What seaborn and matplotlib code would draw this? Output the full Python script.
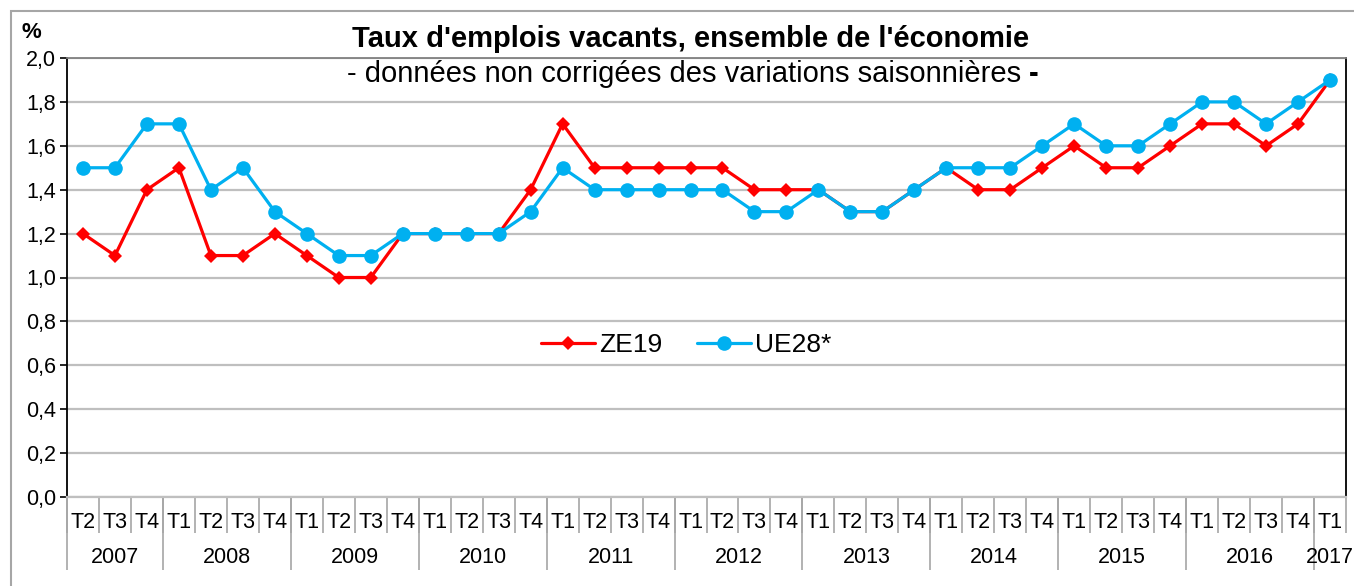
import pandas as pd
import seaborn as sns
import matplotlib.pyplot as plt
from matplotlib.patches import Rectangle
from matplotlib.lines import Line2D

# Trimestres de 2007 T2 à 2017 T1
years = ['2007', '2008', '2009', '2010', '2011', '2012', '2013', '2014', '2015', '2016', '2017']
quarters_per_year = [3, 4, 4, 4, 4, 4, 4, 4, 4, 4, 1]
quarters = (['T2', 'T3', 'T4'] + ['T1', 'T2', 'T3', 'T4'] * 9 + ['T1'])

ze19 = [1.2, 1.1, 1.4,
        1.5, 1.1, 1.1, 1.2,
        1.1, 1.0, 1.0, 1.2,
        1.2, 1.2, 1.2, 1.4,
        1.7, 1.5, 1.5, 1.5,
        1.5, 1.5, 1.4, 1.4,
        1.4, 1.3, 1.3, 1.4,
        1.5, 1.4, 1.4, 1.5,
        1.6, 1.5, 1.5, 1.6,
        1.7, 1.7, 1.6, 1.7,
        1.9]
ue28 = [1.5, 1.5, 1.7,
        1.7, 1.4, 1.5, 1.3,
        1.2, 1.1, 1.1, 1.2,
        1.2, 1.2, 1.2, 1.3,
        1.5, 1.4, 1.4, 1.4,
        1.4, 1.4, 1.3, 1.3,
        1.4, 1.3, 1.3, 1.4,
        1.5, 1.5, 1.5, 1.6,
        1.7, 1.6, 1.6, 1.7,
        1.8, 1.8, 1.7, 1.8,
        1.9]

n = len(quarters)
df = pd.DataFrame({
    'idx': list(range(n)) * 2,
    'valeur': ze19 + ue28,
    'serie': ['ZE19'] * n + ['UE28*'] * n,
})

sns.set_style('white')
plt.rcParams['font.family'] = ['Liberation Sans', 'DejaVu Sans']
plt.rcParams['text.color'] = 'black'
plt.rcParams['xtick.color'] = 'black'
plt.rcParams['ytick.color'] = 'black'

fig = plt.figure(figsize=(13.54, 5.86), dpi=100)
ax = fig.add_axes([67 / 1354, 1 - 497 / 586, 1279 / 1354, 439 / 586])

# cadre gris autour du graphique
fig.patches.append(Rectangle((11 / 1354, -0.05), 1.2, 1 - 11 / 586 + 0.05,
                             transform=fig.transFigure, fill=False,
                             edgecolor='#a6a6a6', lw=1.5, zorder=0))

palette = {'ZE19': '#ff0000', 'UE28*': '#00b0f0'}
markers = {'ZE19': 'D', 'UE28*': 'o'}
sns.lineplot(data=df, x='idx', y='valeur', hue='serie', style='serie',
             palette=palette, markers=markers, dashes=False, lw=2.3,
             markersize=7, markeredgewidth=0, ax=ax, legend=False, zorder=3)
# marqueurs bleus plus gros
ax.lines[1].set_markersize(10.5)

ax.set_xlim(-0.5, n - 0.5)
ax.set_ylim(0, 2.0)
ax.set_yticks([i / 10 for i in range(0, 21, 2)])
ax.set_yticklabels([f'{i / 10:.1f}'.replace('.', ',') for i in range(0, 21, 2)], fontsize=15.5)
ax.yaxis.grid(True, color='#bfbfbf', lw=1.6)
ax.tick_params(axis='y', left=True, length=5, width=1.2, color='black', pad=3)
ax.set_xlabel('')
ax.set_ylabel('')

for s in ['left', 'right']:
    ax.spines[s].set_color('black')
    ax.spines[s].set_linewidth(1.3)
ax.spines['top'].set_color('#808080')
ax.spines['top'].set_linewidth(1.3)
ax.spines['bottom'].set_color('#bfbfbf')
ax.spines['bottom'].set_linewidth(1.6)

# étiquettes des trimestres
ax.set_xticks(range(n))
ax.set_xticklabels(quarters, fontsize=15.5)
ax.tick_params(axis='x', bottom=False, length=0, pad=11)
trans = ax.get_xaxis_transform()
bounds = [i - 0.5 for i in range(n + 1)]
ax.vlines(bounds, -0.082, 0, transform=trans, colors='#a6a6a6', lw=1.2, clip_on=False)

# étiquettes des années
start = 0
year_bounds = []
for y, c in zip(years, quarters_per_year):
    ax.text(start + (c - 1) / 2, -0.137, y, transform=trans, ha='center', va='center', fontsize=15.5)
    year_bounds.append(start - 0.5)
    start += c
ax.vlines(year_bounds, -0.166, 0, transform=trans, colors='#a6a6a6', lw=1.2, clip_on=False)

# légende
handles = [Line2D([], [], color=palette['ZE19'], marker='D', lw=2.3, markersize=7, markeredgewidth=0),
           Line2D([], [], color=palette['UE28*'], marker='o', lw=2.3, markersize=10.5, markeredgewidth=0)]
ax.legend(handles, ['ZE19', 'UE28*'], loc='center', bbox_to_anchor=(0.484, 0.346), ncol=2,
          frameon=False, fontsize=19, handlelength=2.05, columnspacing=1.3, handletextpad=0.15)

fig.text(691 / 1354, 1 - 39 / 586, "Taux d'emplois vacants, ensemble de l'économie",
         ha='center', va='center', fontsize=21, fontweight='bold')
# sous-titre avec tiret final en gras
sub = fig.text(1029 / 1354, 1 - 74 / 586, "- données non corrigées des variations saisonnières ",
               ha='right', va='center', fontsize=21)
fig.text(1029 / 1354, 1 - 74 / 586, "-", ha='left', va='center', fontsize=21, fontweight='bold')
fig.text(21 / 1354, 1 - 32 / 586, '%', ha='left', va='center', fontsize=16, fontweight='bold')

fig.savefig('out.png', dpi=100)
